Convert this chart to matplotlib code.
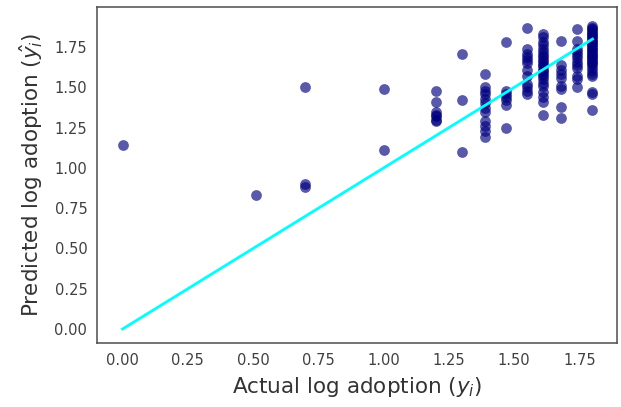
import matplotlib
matplotlib.use("Agg")
import matplotlib.pyplot as plt
import numpy as np

# actual log adoption levels and the predicted values seen at each level
actual_levels = [0.0, 0.51, 0.70, 1.00, 1.20, 1.30, 1.39, 1.47, 1.55, 1.61, 1.68, 1.74, 1.80]
predicted_by_level = [
    [1.14],
    [0.83],
    [1.50, 0.90, 0.88],
    [1.49, 1.11],
    [1.48, 1.41, 1.35, 1.33, 1.32, 1.30, 1.29],
    [1.71, 1.42, 1.10],
    [1.58, 1.50, 1.48, 1.46, 1.43, 1.40, 1.37, 1.35, 1.29, 1.26, 1.23, 1.19],
    [1.78, 1.48, 1.46, 1.44, 1.42, 1.39, 1.25],
    [1.87, 1.74, 1.71, 1.69, 1.67, 1.65, 1.61, 1.57, 1.52, 1.50, 1.48, 1.46],
    [1.83, 1.81, 1.78, 1.76, 1.74, 1.72, 1.70, 1.69, 1.67, 1.66, 1.64, 1.63,
     1.61, 1.60, 1.58, 1.57, 1.55, 1.53, 1.51, 1.47, 1.44, 1.41, 1.33],
    [1.79, 1.64, 1.61, 1.58, 1.56, 1.51, 1.49, 1.38, 1.31],
    [1.86, 1.79, 1.74, 1.72, 1.70, 1.68, 1.66, 1.64, 1.62, 1.57, 1.55, 1.50],
    [1.88, 1.87, 1.86, 1.85, 1.84, 1.83, 1.82, 1.81, 1.80, 1.79, 1.78, 1.77,
     1.76, 1.75, 1.74, 1.73, 1.72, 1.71, 1.70, 1.69, 1.68, 1.67, 1.66, 1.65,
     1.64, 1.62, 1.60, 1.58, 1.57, 1.47, 1.46, 1.36],
]
tick_values = [0.00, 0.25, 0.50, 0.75, 1.00, 1.25, 1.50, 1.75]

actual = []
predicted = []
for level, preds in zip(actual_levels, predicted_by_level):
    for p in preds:
        actual.append(level)
        predicted.append(p)
actual = np.array(actual)
predicted = np.array(predicted)

fig = plt.figure(figsize=(6.21, 4.07), dpi=100)
ax = fig.add_axes([0.1562, 0.1572, 0.8374, 0.8256])

ax.scatter(actual, predicted, s=60, color="navy", alpha=0.65, linewidths=0)
ax.plot([0, max(actual_levels)], [0, max(actual_levels)], color="cyan", linewidth=2)

ax.set_xlim(-0.098, 1.894)
ax.set_ylim(-0.087, 1.999)
ax.set_xticks(tick_values)
ax.set_yticks(tick_values)
ax.set_xticklabels(["%.2f" % t for t in tick_values])
ax.set_yticklabels(["%.2f" % t for t in tick_values])
ax.tick_params(length=0, labelsize=10.5, colors="0.25", pad=7)

for spine in ax.spines.values():
    spine.set_color("0.3")
    spine.set_linewidth(1.1)

ax.set_xlabel(r"Actual log adoption ($y_i$)", fontsize=15.5, color="0.2", labelpad=5)
ax.set_ylabel(r"Predicted log adoption ($\hat{y_i}$)", fontsize=15.5, color="0.2", labelpad=7)

fig.savefig("out.png", dpi=100)
